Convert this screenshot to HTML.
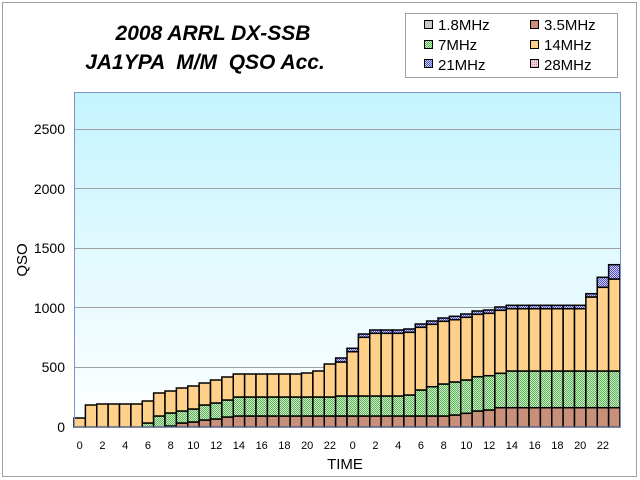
<!DOCTYPE html>
<html><head><meta charset="utf-8"><style>
html,body{margin:0;padding:0;background:#fff;}
svg{display:block;font-family:"Liberation Sans",Arial,sans-serif;}
</style></head><body>
<svg id="s" width="640" height="480" xmlns="http://www.w3.org/2000/svg">
<defs>
<linearGradient id="bg" x1="0" y1="0" x2="0" y2="1">
<stop offset="0" stop-color="#c4f4ff"/><stop offset="1" stop-color="#ffffff"/>
</linearGradient>
<pattern id="pg" width="2" height="2" patternUnits="userSpaceOnUse">
<rect width="2" height="2" fill="#c8f0c0"/><rect width="1" height="1" fill="#60b060"/><rect x="1" y="1" width="1" height="1" fill="#60b060"/>
</pattern>
<pattern id="pb" width="2" height="2" patternUnits="userSpaceOnUse">
<rect width="2" height="2" fill="#d0d0ff"/><rect width="1" height="1" fill="#5050c0"/><rect x="1" y="1" width="1" height="1" fill="#5050c0"/>
</pattern>
<pattern id="pp" width="2" height="2" patternUnits="userSpaceOnUse">
<rect width="2" height="2" fill="#f4d0e0"/><rect width="1" height="1" fill="#c090a8"/>
</pattern>
</defs>
<rect x="2.5" y="2.5" width="634" height="474" fill="#fff" stroke="#a0a0a0"/>
<text x="213" y="40" text-anchor="middle" font-size="21" font-weight="bold" font-style="italic">2008 ARRL DX-SSB</text>
<text x="205" y="69" text-anchor="middle" font-size="21" font-weight="bold" font-style="italic" xml:space="preserve">JA1YPA  M/M  QSO Acc.</text>
<rect x="405.5" y="13.5" width="212" height="64" fill="#fff" stroke="#a0a0a0"/>
<g font-size="15">
<rect x="424.5" y="20.5" width="8" height="8" fill="#c8c8c8" stroke="#000"/><text x="438" y="30">1.8MHz</text>
<rect x="530.5" y="20.5" width="8" height="8" fill="#c8907a" stroke="#000"/><text x="544" y="30">3.5MHz</text>
<rect x="424.5" y="40.5" width="8" height="8" fill="url(#pg)" stroke="#000"/><text x="438" y="50">7MHz</text>
<rect x="530.5" y="40.5" width="8" height="8" fill="#ffd08a" stroke="#000"/><text x="544" y="50">14MHz</text>
<rect x="424.5" y="59.5" width="8" height="8" fill="url(#pb)" stroke="#000"/><text x="438" y="70">21MHz</text>
<rect x="530.5" y="59.5" width="8" height="8" fill="url(#pp)" stroke="#000"/><text x="544" y="70">28MHz</text>
</g>
<rect x="74" y="93" width="546" height="334" fill="url(#bg)"/>
<g stroke="#a0a0a0" stroke-width="1">
<line x1="74" x2="620" y1="367.5" y2="367.5"/><line x1="74" x2="620" y1="307.5" y2="307.5"/>
<line x1="74" x2="620" y1="248.5" y2="248.5"/><line x1="74" x2="620" y1="188.5" y2="188.5"/>
<line x1="74" x2="620" y1="129.5" y2="129.5"/>
</g>
<g id="bars"></g>
<rect x="74.5" y="92.5" width="546" height="334.5" fill="none" stroke="#8090c8"/>
<g font-size="14" text-anchor="end">
<text x="65" y="432">0</text><text x="65" y="372">500</text><text x="65" y="313">1000</text>
<text x="65" y="253">1500</text><text x="65" y="194">2000</text><text x="65" y="134">2500</text>
</g>
<g id="xl" font-size="11" text-anchor="middle"></g>
<text x="345" y="469" text-anchor="middle" font-size="15">TIME</text>
<text transform="translate(27,260) rotate(-90)" text-anchor="middle" font-size="15">QSO</text>
</svg>
<script>
var B=427,x0=74,w=546/48;
var b=[427,427,427,427,427,427,427,427,426,423,422,420,419,417,416,416,416,416,416,416,416,416,416,416,
416,416,416,416,416,416,416,416,416,415,413.3,411,410,407.7,407.7,407.7,407.7,407.7,407.7,407.7,407.7,407.7,407.7,407.7];
var g=[427,427,427,427,427,427,423,416,413,411,409,405,403,400,397,397,397,397,397,397,397,397,397,396,
396,396,396,396,396,395,390,386.7,384,382,380,376.7,375.7,373.3,371,371,371,371,371,371,371,371,371,371];
var o=[418,405,404,404,404,404,401,393,391,388,386,383,380,377,374,374,374,374,374,374,373,371,364,362,
351.7,337.3,333.3,333.3,333.3,332.3,327.3,324.3,321.3,319.7,317.3,314.3,313.3,310.3,308.7,308.7,308.7,308.7,308.7,308.7,308.7,297,287.3,279];
var u=o.slice(0,23).concat([358,348.3,334,330,330,330,329,324,321,318,316.3,314,311,310,307,305.3,305.3,305.3,305.3,305.3,305.3,305.3,293.7,277.3,264.7]);
var h='';
for(var i=0;i<48;i++){
 var x=x0+i*w;
 var segs=[[B,b[i],'#c8907a'],[b[i],g[i],'url(#pg)'],[g[i],o[i],'#ffd08a'],[o[i],u[i],'url(#pb)']];
 segs.forEach(function(s){var hh=s[0]-s[1];if(hh>0.3)h+='<rect x="'+x.toFixed(2)+'" y="'+s[1]+'" width="'+w.toFixed(2)+'" height="'+hh.toFixed(2)+'" fill="'+s[2]+'" stroke="#000" stroke-width="1.5"/>';});
}
document.getElementById('bars').innerHTML=h;
var t='';
for(var i=0;i<48;i+=2){t+='<text x="'+(x0+i*w+w/2).toFixed(1)+'" y="449">'+(i%24)+'</text>';}
document.getElementById('xl').innerHTML=t;
</script>
</body></html>
